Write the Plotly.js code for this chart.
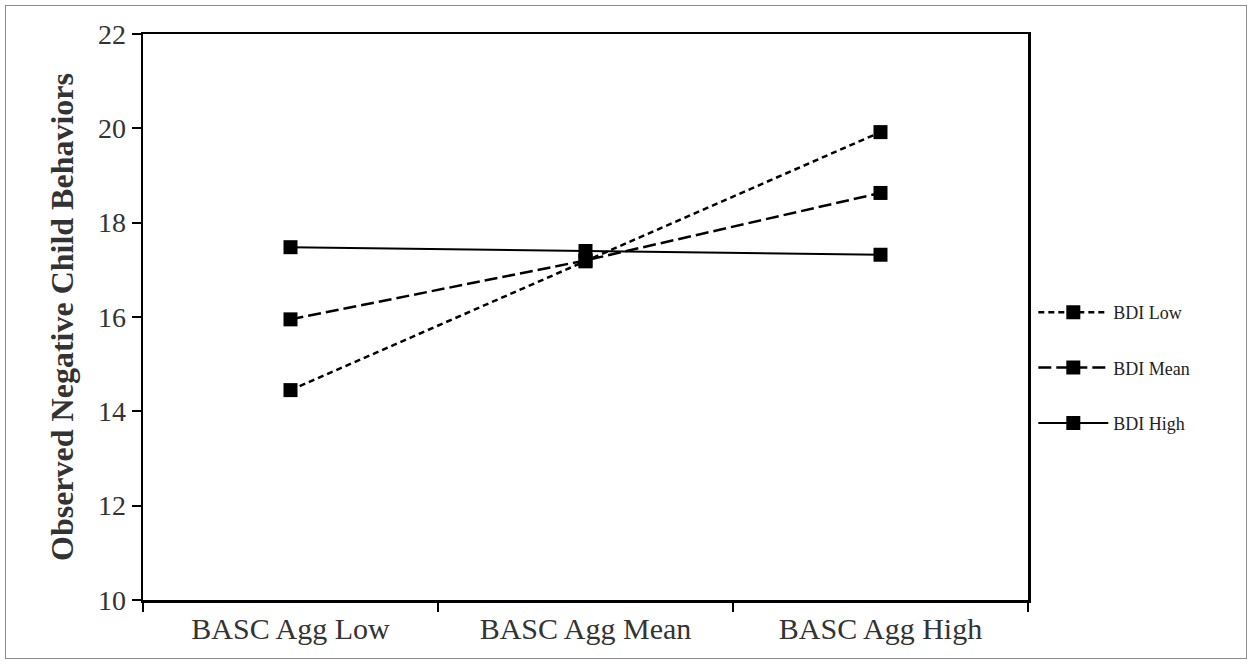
<!DOCTYPE html>
<html>
<head>
<meta charset="utf-8">
<script src="https://cdn.plot.ly/plotly-3.0.1.min.js"></script>
<style>
  html, body { margin: 0; padding: 0; background: #fff; }
  #wrap { position: relative; width: 1252px; height: 664px; }
  #chart { position: absolute; left: 0; top: 0; width: 1252px; height: 664px; }
  #frame { position: absolute; left: 5px; top: 5px; width: 1240px; height: 652px; border: 1px solid #8a8a8a; pointer-events: none; }
</style>
</head>
<body>
<div id="wrap">
  <div id="chart"></div>
  <div id="frame"></div>
</div>
<script>
const categories = ["BASC Agg Low", "BASC Agg Mean", "BASC Agg High"];
const seriesNames = ["BDI Low", "BDI Mean", "BDI High"];
const bdiLow = [14.45, 17.18, 19.92];
const bdiMean = [15.95, 17.2, 18.63];
const bdiHigh = [17.48, 17.4, 17.32];
const yTicks = [10, 12, 14, 16, 18, 20, 22];
const yTitle = "Observed Negative Child Behaviors";

const dashes = ["6px,4px", "13px,5px", "solid"];
const seriesValues = [bdiLow, bdiMean, bdiHigh];

const traces = seriesValues.map((vals, i) => ({
  type: "scatter",
  mode: "lines+markers",
  name: seriesNames[i],
  legendgroup: "g" + i,
  x: categories,
  y: vals,
  line: { color: "#000", width: i === 2 ? 2 : 2.5, dash: dashes[i] },
  marker: { symbol: "square", size: 14, color: "#000" }
}));

const font = "'Times New Roman', 'Liberation Serif', serif";

const layout = {
  width: 1252,
  height: 664,
  margin: { l: 143, r: 224, t: 34, b: 64 },
  paper_bgcolor: "#fff",
  plot_bgcolor: "#fff",
  font: { family: font, color: "#222" },
  showlegend: true,
  legend: {
    x: 1.006, xanchor: "left",
    y: 0.41, yanchor: "middle",
    font: { family: font, size: 18, color: "#222" },
    itemwidth: 70,
    tracegroupgap: 29,
    bgcolor: "rgba(0,0,0,0)"
  },
  xaxis: {
    type: "category",
    tickson: "boundaries",
    ticks: "outside",
    ticklen: 9,
    tickwidth: 2,
    tickcolor: "#000",
    showline: true,
    linecolor: "#000",
    linewidth: 2.5,
    mirror: true,
    showgrid: false,
    zeroline: false,
    tickfont: { family: font, size: 30, color: "#333" },
    range: [-0.5, 2.5]
  },
  yaxis: {
    range: [10, 22],
    tickvals: yTicks,
    ticktext: yTicks.map(String),
    ticks: "outside",
    ticklen: 9,
    tickwidth: 2,
    tickcolor: "#000",
    showline: true,
    linecolor: "#000",
    linewidth: 2.5,
    mirror: true,
    showgrid: false,
    zeroline: false,
    tickfont: { family: font, size: 28, color: "#333" },
    title: { text: "<b>" + yTitle + "</b>", font: { family: font, size: 32, color: "#333" }, standoff: 15 }
  }
};

Plotly.newPlot("chart", traces, layout, { displayModeBar: false, staticPlot: true });
</script>
</body>
</html>
